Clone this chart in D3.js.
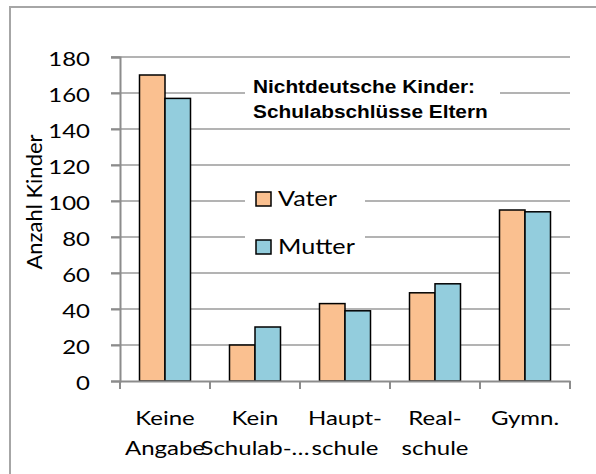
<!DOCTYPE html>
<html>
<head>
<meta charset="utf-8">
<script src="https://cdn.jsdelivr.net/npm/d3@7/dist/d3.min.js"></script>
<style>
  html, body { margin: 0; padding: 0; background: #fff; }
</style>
</head>
<body>
<svg id="chart" width="596" height="474"></svg>
<script>
// chart data
var categories = [['Keine', 'Angabe'], ['Kein', 'Schulab-…'], ['Haupt-', 'schule'], ['Real-', 'schule'], ['Gymn.', '']];
var seriesNames = ['Vater', 'Mutter'];
var vater = [170, 20, 43, 49, 95];
var mutter = [157, 30, 39, 54, 94];
var yTicks = [0, 20, 40, 60, 80, 100, 120, 140, 160, 180];
var titleLines = ['Nichtdeutsche Kinder:', 'Schulabschlüsse Eltern'];
var yTitle = 'Anzahl Kinder';

var colors = { Vater: '#FAC090', Mutter: '#93CDDD' };
var sx = 1.2; // the reference is stretched sideways a bit
var bodyFont = 'Lato, "Open Sans", sans-serif';

var svg = d3.select('#chart');

// outer frame, right and bottom edge run off the picture
svg.append('rect')
    .attr('x', 10).attr('y', 7)
    .attr('width', 620).attr('height', 500)
    .attr('fill', 'none')
    .attr('stroke', '#a6a6a6')
    .attr('stroke-width', 2);

var plotL = 120, plotR = 570, plotT = 57, plotB = 381;

var y = d3.scaleLinear().domain([0, 180]).range([plotB, plotT]);
var x0 = d3.scaleBand().domain(d3.range(categories.length)).range([plotL, plotR]).padding(0);
var x1 = d3.scaleBand().domain(seriesNames).range([19.5, 70.5]).padding(0);

// gridlines
svg.append('g').selectAll('line')
    .data(yTicks.filter(function (d) { return d > 0; }))
    .join('line')
    .attr('x1', plotL - 9).attr('x2', plotR)
    .attr('y1', function (d) { return y(d); })
    .attr('y2', function (d) { return y(d); })
    .attr('stroke', '#b3b3b3')
    .attr('stroke-width', 2);

// y axis
var yAxis = svg.append('g')
    .attr('transform', 'translate(' + plotL + ',0)')
    .call(d3.axisLeft(y).tickValues(yTicks).tickSize(9).tickPadding(21));
yAxis.select('.domain').attr('stroke', '#8c8c8c').attr('stroke-width', 2);
yAxis.selectAll('.tick line').attr('stroke', '#8c8c8c').attr('stroke-width', 2);
yAxis.selectAll('.tick text')
    .style('font-family', bodyFont)
    .style('font-size', '20px')
    .attr('fill', '#000')
    .attr('x', -30 / sx)
    .attr('dy', '0.4em')
    .attr('transform', 'scale(' + sx + ',1)');

// bars
var groups = svg.append('g').selectAll('g')
    .data(categories.map(function (c, i) { return i; }))
    .join('g')
    .attr('transform', function (i) { return 'translate(' + x0(i) + ',0)'; });

groups.selectAll('rect')
    .data(function (i) { return [{ s: 'Vater', v: vater[i] }, { s: 'Mutter', v: mutter[i] }]; })
    .join('rect')
    .attr('x', function (d) { return x1(d.s); })
    .attr('width', x1.bandwidth())
    .attr('y', function (d) { return y(d.v); })
    .attr('height', function (d) { return y(0) - y(d.v); })
    .attr('fill', function (d) { return colors[d.s]; })
    .attr('stroke', '#000')
    .attr('stroke-width', 1.5);

// x axis
var xAxis = svg.append('g')
    .attr('transform', 'translate(0,' + plotB + ')')
    .call(d3.axisBottom(x0).tickValues([]).tickSizeOuter(0));
xAxis.select('.domain').attr('stroke', '#8c8c8c').attr('stroke-width', 2);
xAxis.selectAll('line.sep')
    .data(d3.range(categories.length + 1))
    .join('line')
    .attr('class', 'sep')
    .attr('x1', function (i) { return plotL + i * x0.step(); })
    .attr('x2', function (i) { return plotL + i * x0.step(); })
    .attr('y1', 0).attr('y2', 8)
    .attr('stroke', '#8c8c8c')
    .attr('stroke-width', 2);

var catLabels = svg.append('g').selectAll('text')
    .data(categories)
    .join('text')
    .attr('text-anchor', 'middle')
    .style('font-family', bodyFont)
    .style('font-size', '20px')
    .attr('transform', function (d, i) {
        return 'translate(' + (x0(i) + x0.bandwidth() / 2) + ',425) scale(' + sx + ',1)';
    });
catLabels.selectAll('tspan')
    .data(function (d) { return d; })
    .join('tspan')
    .attr('x', 0)
    .attr('y', function (d, j) { return j * 30; })
    .text(function (d) { return d; });

// y title
svg.append('text')
    .attr('transform', 'translate(42,202) rotate(-90)')
    .attr('text-anchor', 'middle')
    .style('font-family', bodyFont)
    .style('font-size', '22px')
    .text(yTitle);

// chart title with white backing
svg.append('rect')
    .attr('x', 245).attr('y', 75).attr('width', 255).attr('height', 50)
    .attr('fill', '#fff');
svg.append('g').selectAll('text')
    .data(titleLines)
    .join('text')
    .attr('transform', function (d, i) { return 'translate(253,' + (93 + i * 25) + ') scale(1.19,1)'; })
    .style('font-family', '"Liberation Sans", Arial, sans-serif')
    .style('font-weight', 'bold')
    .style('font-size', '17.5px')
    .text(function (d) { return d; });

// legend
var legend = svg.append('g');
legend.append('rect')
    .attr('x', 245).attr('y', 180).attr('width', 120).attr('height', 82)
    .attr('fill', '#fff');
var items = legend.selectAll('g.item')
    .data(seriesNames)
    .join('g')
    .attr('class', 'item')
    .attr('transform', function (d, i) { return 'translate(256,' + (192 + i * 48) + ')'; });
items.append('rect')
    .attr('width', 15).attr('height', 14)
    .attr('fill', function (d) { return colors[d]; })
    .attr('stroke', '#000')
    .attr('stroke-width', 1.5);
items.append('text')
    .attr('transform', 'translate(22,14) scale(' + sx + ',1)')
    .style('font-family', bodyFont)
    .style('font-size', '21px')
    .text(function (d) { return d; });
</script>
</body>
</html>
